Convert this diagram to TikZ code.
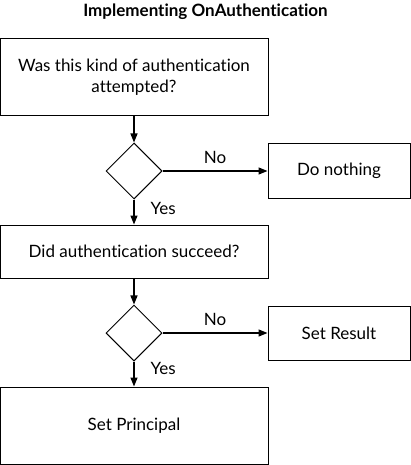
\documentclass[tikz,border=0pt]{standalone}
\usepackage{fontspec}
\setmainfont[Ligatures=NoCommon]{Lato}
\usetikzlibrary{arrows.meta,shapes.geometric}
\begin{document}
\begin{tikzpicture}[x=1pt,y=-1pt,
  box/.style={draw,line width=1pt,minimum width=268pt,align=center,font=\fontsize{17}{21}\selectfont,inner sep=0pt},
  sbox/.style={draw,line width=1pt,minimum width=142pt,minimum height=54pt,font=\fontsize{17}{21}\selectfont,inner sep=0pt},
  dec/.style={draw,line width=1pt,diamond,minimum width=56pt,minimum height=56pt,inner sep=0pt},
  arr/.style={line width=1.3pt,-{Triangle[length=9pt,width=7pt]}},
  nolbl/.style={font=\fontsize{17}{20}\selectfont,inner sep=0pt,anchor=center,yshift=14pt},
  yeslbl/.style={font=\fontsize{17}{20}\selectfont,inner sep=0pt,anchor=west,xshift=16pt}]
\useasboundingbox (0,0) rectangle (411,465);
\node[font=\bfseries\fontsize{17}{20}\selectfont] (title) at (205.5,12) {Implementing OnAuthentication};
\node[box,minimum height=77pt] (b1) at (134,77.5) {Was this kind of authentication\\attempted?};
\node[dec] (d1) at (134,171) {};
\node[sbox] (n1) at (339,171) {Do nothing};
\node[box,minimum height=53pt] (b2) at (134,251.5) {Did authentication succeed?};
\node[dec] (d2) at (134,333) {};
\node[sbox] (n2) at (339,333) {Set Result};
\node[box,minimum height=77pt] (b3) at (134,425.5) {Set Principal};
\draw[arr] (b1) -- (d1);
\draw[arr] (d1) -- node[nolbl] {No} (n1);
\draw[arr] (d1) -- node[yeslbl,pos=0.35] {Yes} (b2);
\draw[arr] (b2) -- (d2);
\draw[arr] (d2) -- node[nolbl] {No} (n2);
\draw[arr] (d2) -- node[yeslbl,pos=0.27] {Yes} (b3);
\end{tikzpicture}
\end{document}
